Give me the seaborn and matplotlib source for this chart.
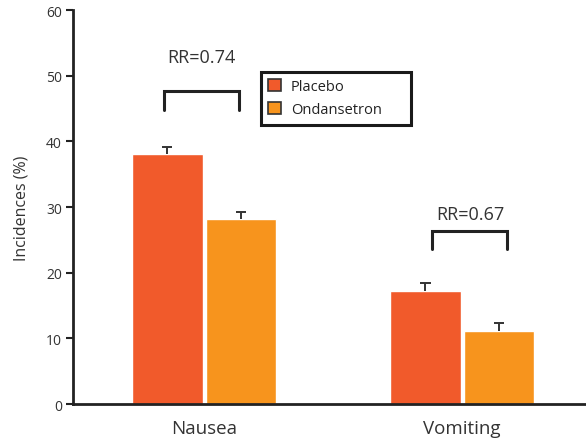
import numpy as np
import pandas as pd
import matplotlib
matplotlib.use('Agg')
import matplotlib.pyplot as plt
import seaborn as sns
from matplotlib.patches import Patch

sns.set_style('white')
plt.rcParams['font.family'] = ['Open Sans', 'DejaVu Sans']

# values
symptoms = ['Nausea', 'Vomiting']
groups = ['Placebo', 'Ondansetron']
placebo = [38.0, 17.2]
ondansetron = [28.1, 11.1]
placebo_err = [1.2, 1.3]
ondansetron_err = [1.2, 1.3]
rr_labels = ['RR=0.74', 'RR=0.67']
rr_bracket_y = [47.6, 26.4]
rr_text_y = [52.8, 28.9]
colors = ['#F15A2B', '#F7941D']

df = pd.DataFrame({
    'symptom': symptoms * 2,
    'group': [groups[0]] * 2 + [groups[1]] * 2,
    'value': placebo + ondansetron,
    'err': placebo_err + ondansetron_err,
})

fig = plt.figure(figsize=(5.86, 4.39), dpi=100)
ax = fig.add_axes([0.1246, 0.0774, 0.8754, 0.8975])

sns.barplot(data=df, x='symptom', y='value', hue='group', order=symptoms,
            hue_order=groups, palette=colors, width=0.57, gap=0.04,
            errorbar=None, saturation=1, legend=False, ax=ax)

# upper-only error bars (T shape on top of each bar)
for bars, g in zip(ax.containers, groups):
    sub = df[df['group'] == g].set_index('symptom').loc[symptoms]
    xs = np.array([b.get_x() + b.get_width() / 2 for b in bars])
    tops = sub['value'].values + sub['err'].values
    ax.vlines(xs, sub['value'].values, tops, color='#333333', lw=1.4, zorder=3)
    ax.hlines(tops, xs - 0.02, xs + 0.02, color='#333333', lw=1.4, zorder=3)

# RR brackets
for i, (lab, yb, yt) in enumerate(zip(rr_labels, rr_bracket_y, rr_text_y)):
    c = i + (-0.01 if i == 0 else 0.03)
    x0, x1 = c - 0.145, c + 0.145
    ax.plot([x0, x0, x1, x1], [yb - 2.8, yb, yb, yb - 2.8], color='#222222',
            lw=2.2, solid_joinstyle='miter', clip_on=False)
    ax.text(c, yt, lab, ha='center', va='center', fontsize=13, color='#333333')

ax.set_xlim(-0.508, 1.48)
ax.set_ylim(0, 60)
ax.set_yticks(range(0, 61, 10))
ax.set_xlabel('')
ax.set_ylabel('Incidences (%)', fontsize=11.5, color='#333333', labelpad=12)
ax.tick_params(axis='y', direction='out', length=5, width=1.5, color='#222222',
               labelsize=10, labelcolor='#333333', pad=3, left=True)
ax.tick_params(axis='x', length=0, labelsize=13.5, labelcolor='#333333', pad=11)

sns.despine(ax=ax, top=True, right=True)
for s in ['left', 'bottom']:
    ax.spines[s].set_linewidth(2)
    ax.spines[s].set_color('#222222')

handles = [Patch(facecolor=c, edgecolor='#333333', linewidth=1.2, label=g)
           for c, g in zip(colors, groups)]
leg = ax.legend(handles=handles, loc='upper left',
                bbox_to_anchor=(0.3665, 0.7107, 0.2924, 0.1319), mode='expand',
                frameon=True, fancybox=False, framealpha=1, fontsize=10.5,
                handlelength=0.85, handleheight=0.85, handletextpad=0.7,
                borderpad=0.5, labelspacing=0.55, borderaxespad=0)
leg.get_frame().set_edgecolor('#1a1a1a')
leg.get_frame().set_linewidth(2.2)
for t in leg.get_texts():
    t.set_color('#222222')

fig.savefig('out.png', dpi=100)
